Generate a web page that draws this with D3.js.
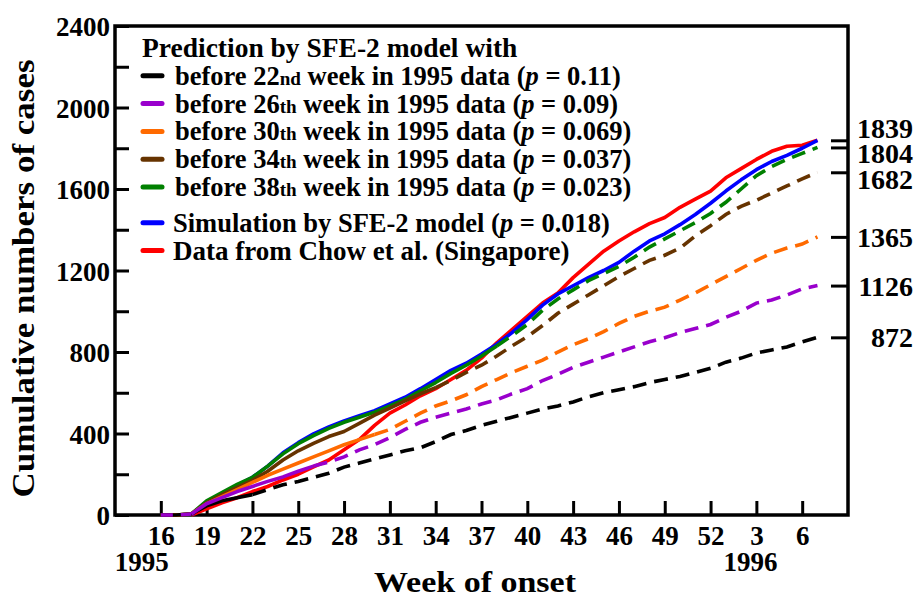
<!DOCTYPE html>
<html><head><meta charset="utf-8">
<script src="https://cdn.jsdelivr.net/npm/d3@7"></script>
<style>
body{margin:0;background:#fff}
text{font-family:"Liberation Serif","Times New Roman",serif;font-weight:bold;fill:#000}
</style>
</head><body><svg id="c" width="919" height="599"></svg>
<script>
// ---------- data ----------
const weeks = [16,17,18,19,20,21,22,23,24,25,26,27,28,29,30,31,32,33,34,35,36,37,38,39,40,41,42,43,44,45,46,47,48,49,50,51,52,53,54,55,56,57,58,59];
const weekTicks = [16,19,22,25,28,31,34,37,40,43,46,49,52,55,58];
const weekTickLabels = ["16","19","22","25","28","31","34","37","40","43","46","49","52","3","6"];
const yTicks = [0,200,400,600,800,1000,1200,1400,1600,1800,2000,2200,2400];
const yTickLabels = ["0","","400","","800","","1200","","1600","","2000","","2400"];
const endValues = [1839,1804,1682,1365,1126,872];

const dataChow = [null,null,0,30,60,85,115,140,172,200,236,270,320,370,440,500,540,585,620,665,710,770,845,910,975,1040,1090,1165,1230,1295,1345,1390,1430,1460,1510,1550,1590,1655,1700,1745,1785,1810,1815,1839];
const simSFE2 = [null,null,0,65,105,145,185,240,305,355,398,432,462,487,512,545,578,620,665,710,745,790,838,895,960,1030,1085,1125,1165,1200,1240,1295,1345,1380,1425,1475,1530,1590,1645,1695,1735,1765,1800,1839];
const pred38 = [0,0,5,70,110,150,185,240,300,350,390,425,455,480,505,535,568,610,650,695,735,780,830,880,935,1005,1060,1105,1150,1185,1220,1265,1315,1355,1395,1435,1480,1535,1600,1665,1710,1745,1775,1804];
const pred34 = [0,0,5,60,100,135,170,215,270,315,352,385,410,450,490,525,560,595,625,660,700,735,780,830,875,930,990,1035,1080,1125,1170,1210,1250,1275,1310,1370,1420,1475,1515,1545,1580,1615,1650,1682];
const pred30 = [0,0,5,55,90,125,160,195,225,255,285,315,345,370,395,420,460,500,535,560,590,630,665,700,730,760,800,835,865,900,940,975,1000,1020,1055,1090,1130,1170,1210,1250,1285,1310,1330,1365];
const pred26 = [0,0,5,55,85,115,140,165,187,215,240,260,285,320,345,380,420,455,480,500,520,545,565,595,620,660,690,725,750,775,800,825,850,870,895,915,935,970,1000,1040,1055,1080,1110,1126];
const pred22 = [0,0,5,45,70,85,100,125,148,165,185,205,235,255,275,295,315,330,360,395,415,440,460,480,500,520,535,555,580,600,615,630,650,665,680,700,720,750,770,795,810,825,850,872];

const predCutoffs = [22,26,30,34,38];
const predOrdinal = ["nd","th","th","th","th"];
const predP = ["0.11","0.09","0.069","0.037","0.023"];
const predColors = ["#000000","#9900cc","#ff6a00","#663300","#008000"];
const simColor = "#0000ff";
const dataColor = "#ff0000";
const legendTitle = "Prediction by SFE-2 model with";
const simLabel = ["Simulation by SFE-2 model (", "p", " = 0.018)"];
const dataLabel = "Data from Chow et al. (Singapore)";
const yTitle = "Cumulative numbers of cases";
const xTitle = "Week of onset";
const yearLabels = ["1995","1996"];
const yearWeeks = [16,55];

// ---------- layout ----------
const svg = d3.select("#c");
const x = d3.scaleLinear().domain([13,61]).range([115,848]);
const y = d3.scaleLinear().domain([0,2400]).range([515,26]);

// axes
const yAxis = d3.axisLeft(y).tickValues(yTicks).tickFormat((d,i)=>yTickLabels[i]).tickSize(-14).tickSizeOuter(0).tickPadding(5);
const gy = svg.append("g").attr("transform",`translate(${x(13)},0)`).call(yAxis);
gy.select(".domain").remove();
gy.selectAll("line").attr("stroke","#000").attr("stroke-width",3);
gy.selectAll("text").attr("font-size",27).attr("dy","0.36em").attr("x",-5);

const xAxis = d3.axisBottom(x).tickValues(weekTicks).tickFormat((d,i)=>weekTickLabels[i]).tickSize(-14).tickSizeOuter(0).tickPadding(11);
const gx = svg.append("g").attr("transform",`translate(0,${y(0)})`).call(xAxis);
gx.select(".domain").remove();
gx.selectAll("line").attr("stroke","#000").attr("stroke-width",3);
gx.selectAll("text").attr("font-size",27);

const rAxis = d3.axisRight(y).tickValues(endValues).tickFormat("").tickSize(-17).tickSizeOuter(0);
const gr = svg.append("g").attr("transform",`translate(${x(61)},0)`).call(rAxis);
gr.select(".domain").remove();
gr.selectAll("line").attr("stroke","#000").attr("stroke-width",3);

// right labels with simple collision avoidance
const spacing = 25.5;
let clusters = endValues.map(v=>({ys:[y(v)],vals:[v]})).sort((a,b)=>a.ys[0]-b.ys[0]);
function place(c){const m=d3.mean(c.ys);const n=c.ys.length;c.pos=c.ys.map((_,i)=>m+(i-(n-1)/2)*spacing);}
clusters.forEach(place);
let merged=true;
while(merged){merged=false;
  for(let i=0;i<clusters.length-1;i++){
    const a=clusters[i],b=clusters[i+1];
    if(b.pos[0]-a.pos[a.pos.length-1]<spacing){
      const c={ys:a.ys.concat(b.ys),vals:a.vals.concat(b.vals)};place(c);
      clusters.splice(i,2,c);merged=true;break;}
  }}
clusters.forEach(c=>c.vals.forEach((v,i)=>{
  svg.append("text").attr("x",913).attr("y",c.pos[i]).attr("dy","0.36em")
    .attr("text-anchor","end").attr("font-size",28).text(v);
}));

// year labels
svg.append("text").attr("x",x(yearWeeks[0])-19).attr("y",571).attr("text-anchor","middle").attr("font-size",27).text(yearLabels[0]);
svg.append("text").attr("x",x(yearWeeks[1])-6).attr("y",571).attr("text-anchor","middle").attr("font-size",27).text(yearLabels[1]);

// titles
svg.append("text").attr("transform",`translate(34,${(y(0)+y(2400))/2+8}) rotate(-90)`)
  .attr("text-anchor","middle").attr("font-size",32).attr("textLength",438).attr("lengthAdjust","spacingAndGlyphs").text(yTitle);
svg.append("text").attr("x",475).attr("y",592).attr("text-anchor","middle").attr("font-size",29)
  .attr("textLength",202).attr("lengthAdjust","spacingAndGlyphs").text(xTitle);

// frame
svg.append("rect").attr("x",x(13)).attr("y",y(2400)).attr("width",x(61)-x(13)).attr("height",y(0)-y(2400))
  .attr("fill","none").attr("stroke","#000").attr("stroke-width",3.5);

// ---------- curves ----------
const plot = svg.append("g");
const line = d3.line().defined(d=>d[1]!=null).x(d=>x(d[0])).y(d=>y(d[1]));
const pts = arr => weeks.map((w,i)=>[w,arr[i]]);
const lw = 3.6, dash = "14,8";

plot.append("path").attr("d",line(pts(dataChow))).attr("fill","none").attr("stroke",dataColor).attr("stroke-width",lw).attr("stroke-linejoin","round");
plot.append("path").attr("d",line(pts(simSFE2))).attr("fill","none").attr("stroke",simColor).attr("stroke-width",lw).attr("stroke-linejoin","round");

const preds = [pred22,pred26,pred30,pred34,pred38];
const order = [4,3,2,0,1];
order.forEach(k=>{
  const p = pts(preds[k]);
  const cut = predCutoffs[k];
  const solid = p.filter(d=>d[0]<=cut && (k!==1 || d[0]>=18));
  const dashed = p.filter(d=>d[0]>=cut);
  plot.append("path").attr("d",line(solid)).attr("fill","none").attr("stroke",predColors[k]).attr("stroke-width",lw).attr("stroke-linejoin","round");
  plot.append("path").attr("d",line(dashed)).attr("fill","none").attr("stroke",predColors[k]).attr("stroke-width",lw).attr("stroke-dasharray",dash);
  if(k===1){
    plot.append("path").attr("d",line(p.filter(d=>d[0]<=18))).attr("fill","none").attr("stroke",predColors[k]).attr("stroke-width",lw).attr("stroke-dasharray","12,8");
  }
});

// ---------- legend ----------
const lg = svg.append("g");
const rowY = i => 57 + i*27.8 + (i>=6 ? 8 : 0);
const fs = 26.5;
lg.append("text").attr("x",142).attr("y",rowY(0)).attr("font-size",27.5).text(legendTitle);
function symbol(i,color){
  lg.append("line").attr("x1",143).attr("x2",162).attr("y1",rowY(i)-9).attr("y2",rowY(i)-9)
    .attr("stroke",color).attr("stroke-width",5).attr("stroke-linecap","round");
}
predCutoffs.forEach((c,k)=>{
  const i=k+1;
  symbol(i,predColors[k]);
  const t = lg.append("text").attr("x",175).attr("y",rowY(i)).attr("font-size",fs);
  t.append("tspan").text("before "+c);
  t.append("tspan").attr("font-size",fs*0.72).text(predOrdinal[k]);
  t.append("tspan").text(" week in 1995 data (");
  t.append("tspan").attr("font-style","italic").text("p");
  t.append("tspan").text(" = "+predP[k]+")");
});
symbol(6,simColor);
const ts = lg.append("text").attr("x",173).attr("y",rowY(6)).attr("font-size",fs);
ts.append("tspan").text(simLabel[0]);
ts.append("tspan").attr("font-style","italic").text(simLabel[1]);
ts.append("tspan").text(simLabel[2]);
symbol(7,dataColor);
lg.append("text").attr("x",173).attr("y",rowY(7)).attr("font-size",fs+0.5).text(dataLabel);
</script>
</body></html>
